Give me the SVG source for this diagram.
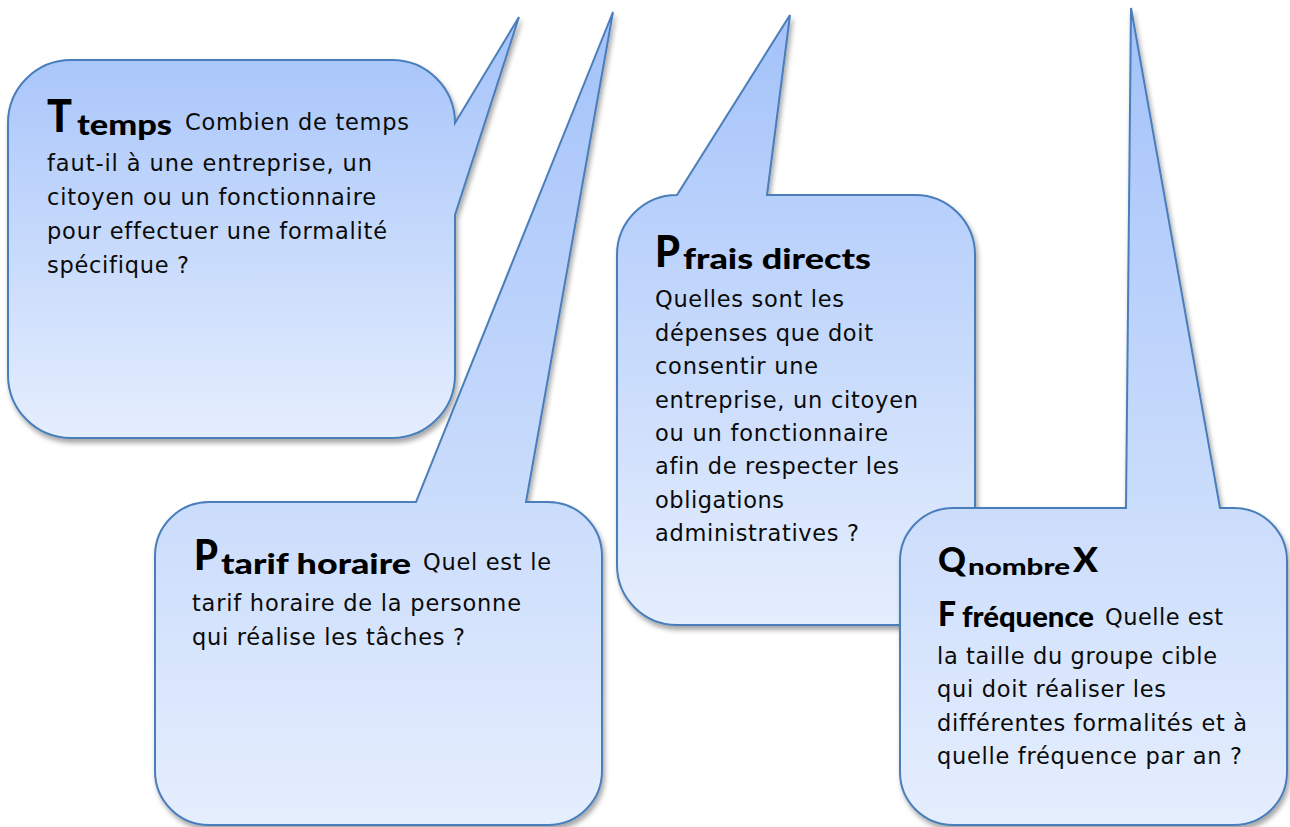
<svg xmlns="http://www.w3.org/2000/svg" width="1290" height="827" viewBox="0 0 1290 827">
<defs>
<linearGradient id="g" x1="0" y1="0" x2="0" y2="1">
<stop offset="0" stop-color="#a3c2fa"/>
<stop offset="1" stop-color="#e5eefd"/>
</linearGradient>
<filter id="sh" x="-10%" y="-10%" width="120%" height="120%">
<feDropShadow dx="2" dy="4" stdDeviation="2.5" flood-color="#000" flood-opacity="0.35"/>
</filter>
</defs>
<style>
.b{fill:url(#g);stroke:#4a7ebb;stroke-width:2;filter:url(#sh)}
.t{font-family:"DejaVu Sans","Verdana",sans-serif;font-size:22.5px;fill:#0a0a0a;font-variant-ligatures:none}
.h{font-family:Lato,"Open Sans",sans-serif;font-weight:900;fill:#000}
</style>
<rect width="1290" height="827" fill="#fff"/>
<g id="bubble-temps">
<path class="b" d="M71,60 H392 A63,63 0 0 1 455,123 L519,17 L455,215 V375 A63,63 0 0 1 392,438 H71 A63,63 0 0 1 8,375 V123 A63,63 0 0 1 71,60 Z"/>
<text class="h" x="47" y="132" font-size="45" textLength="25" lengthAdjust="spacingAndGlyphs">T</text>
<text class="h" x="77" y="135" font-size="29" textLength="95" lengthAdjust="spacingAndGlyphs">temps</text>
<text class="t" x="185" y="130" textLength="224" lengthAdjust="spacing">Combien de temps</text>
<text class="t" x="47" y="171" textLength="325" lengthAdjust="spacing">faut-il à une entreprise, un</text>
<text class="t" x="47" y="205" textLength="329" lengthAdjust="spacing">citoyen ou un fonctionnaire</text>
<text class="t" x="47" y="239" textLength="340" lengthAdjust="spacing">pour effectuer une formalité</text>
<text class="t" x="47" y="273" textLength="142" lengthAdjust="spacing">spécifique ?</text>
</g>
<g id="bubble-tarif">
<path class="b" d="M209,502 H416 L613,12 L526,502 H548 A54,54 0 0 1 602,556 V771 A54,54 0 0 1 548,825 H209 A54,54 0 0 1 155,771 V556 A54,54 0 0 1 209,502 Z"/>
<text class="h" x="194" y="570" font-size="42" textLength="24" lengthAdjust="spacingAndGlyphs">P</text>
<text class="h" x="221" y="574" font-size="29" textLength="190" lengthAdjust="spacingAndGlyphs">tarif horaire</text>
<text class="t" x="423" y="570" textLength="128" lengthAdjust="spacing">Quel est le</text>
<text class="t" x="192" y="611" textLength="329" lengthAdjust="spacing">tarif horaire de la personne</text>
<text class="t" x="192" y="645" textLength="273" lengthAdjust="spacing">qui réalise les tâches ?</text>
</g>
<g id="bubble-frais">
<path class="b" d="M677,195 L790,15 L767,195 H915 A60,60 0 0 1 975,255 V565 A60,60 0 0 1 915,625 H677 A60,60 0 0 1 617,565 V255 A60,60 0 0 1 677,195 Z"/>
<text class="h" x="655" y="267" font-size="44" textLength="25" lengthAdjust="spacingAndGlyphs">P</text>
<text class="h" x="683" y="269" font-size="29" textLength="188" lengthAdjust="spacingAndGlyphs">frais directs</text>
<text class="t" x="655" y="307" textLength="189" lengthAdjust="spacing">Quelles sont les</text>
<text class="t" x="655" y="341" textLength="218" lengthAdjust="spacing">dépenses que doit</text>
<text class="t" x="655" y="374" textLength="163" lengthAdjust="spacing">consentir une</text>
<text class="t" x="655" y="408" textLength="263" lengthAdjust="spacing">entreprise, un citoyen</text>
<text class="t" x="655" y="441" textLength="233" lengthAdjust="spacing">ou un fonctionnaire</text>
<text class="t" x="655" y="474" textLength="244" lengthAdjust="spacing">afin de respecter les</text>
<text class="t" x="655" y="508" textLength="129" lengthAdjust="spacing">obligations</text>
<text class="t" x="655" y="541" textLength="204" lengthAdjust="spacing">administratives ?</text>
</g>
<g id="bubble-nombre">
<path class="b" d="M953,508 H1126 L1131,8 L1220,508 H1234 A53,53 0 0 1 1287,561 V772 A53,53 0 0 1 1234,825 H953 A53,53 0 0 1 900,772 V561 A53,53 0 0 1 953,508 Z"/>
<text class="h" x="938" y="572" font-size="34" textLength="28" lengthAdjust="spacingAndGlyphs">Q</text>
<text class="h" x="968" y="575" font-size="23" textLength="102" lengthAdjust="spacingAndGlyphs">nombre</text>
<text class="h" x="1073" y="572" font-size="34" textLength="25" lengthAdjust="spacingAndGlyphs">X</text>
<text class="h" x="938" y="626" font-size="35" textLength="18" lengthAdjust="spacingAndGlyphs">F</text>
<text class="h" x="962" y="627" font-size="28" textLength="132" lengthAdjust="spacingAndGlyphs">fréquence</text>
<text class="t" x="1105" y="625" textLength="118" lengthAdjust="spacing">Quelle est</text>
<text class="t" x="937" y="664" textLength="280" lengthAdjust="spacing">la taille du groupe cible</text>
<text class="t" x="937" y="697" textLength="229" lengthAdjust="spacing">qui doit réaliser les</text>
<text class="t" x="937" y="731" textLength="310" lengthAdjust="spacing">différentes formalités et à</text>
<text class="t" x="937" y="764" textLength="305" lengthAdjust="spacing">quelle fréquence par an ?</text>
</g>
<g id="connectors"></g>
</svg>
